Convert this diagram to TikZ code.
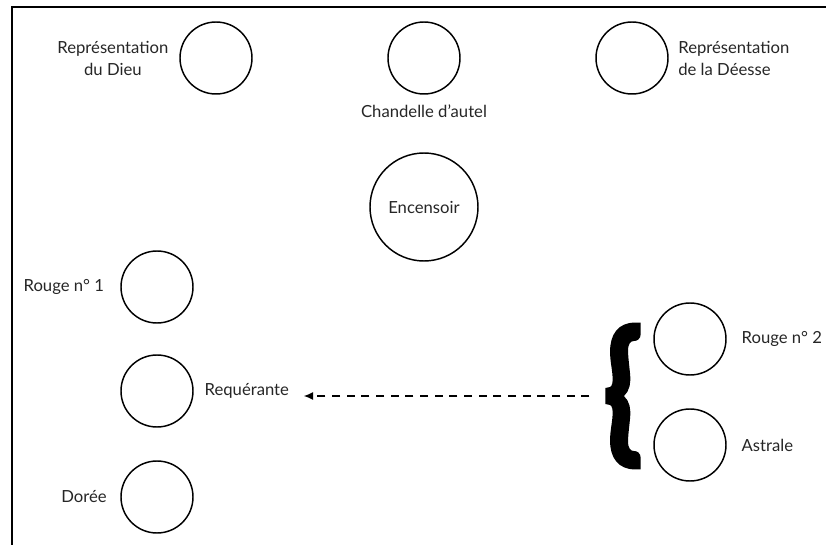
\documentclass[tikz,border=0pt]{standalone}
\usepackage{fontspec}
\setmainfont{Lato}
\newfontfamily\accfont{Lato}[FakeBold=4]
\usepackage{graphicx}
\usepackage{tikz}
\usetikzlibrary{arrows.meta,positioning}

\begin{document}
\begin{tikzpicture}[
  x=0.75pt, y=-0.75pt,
  objet/.style={circle, draw, line width=1.1pt, minimum size=#1, inner sep=0pt},
  objet/.default=54pt,
  lbl/.style={font=\fontsize{12.5}{16.5}\selectfont, text=black!85, align=center, inner sep=0pt},
]

\useasboundingbox (0,0) rectangle (826,545);
\draw[line width=1.5pt] (12,545) -- (12,7) -- (826,7);

% autel : rangée du haut
\node[objet] (dieu) at (216,58) {};
\node[objet] (chandelle) at (424,58) {};
\node[objet] (deesse) at (632,58) {};
\node[objet=81pt, lbl] (encensoir) at (424,207) {Encensoir};

\node[lbl, left=8pt of dieu] (dieu-txt) {Représentation\\du Dieu};
\node[lbl, below=7pt of chandelle] (chandelle-txt) {Chandelle d'autel};
\node[lbl, right=7pt of deesse, align=left] (deesse-txt) {Représentation\\de la Déesse};

% bougies du bas
\node[objet] (rouge1) at (157,287) {};
\node[objet] (requerante) at (157,391) {};
\node[objet] (doree) at (157,497) {};
\node[objet] (rouge2) at (690,339) {};
\node[objet] (astrale) at (690,445) {};

\node[lbl, left=12pt of rouge1] (rouge1-txt) {Rouge n° 1};
\node[lbl, right=8pt of requerante] (requerante-txt) {Requérante};
\node[lbl, left=10pt of doree] (doree-txt) {Dorée};
\node[lbl, right=11pt of rouge2] (rouge2-txt) {Rouge n° 2};
\node[lbl, right=11pt of astrale] (astrale-txt) {Astrale};

\node[inner sep=0pt] (accolade) at (623,396)
  {\resizebox{28pt}{88pt}{\accfont\bfseries\{}};

\draw[line width=0.8pt, dash pattern=on 6pt off 5pt, -{Latex[length=7pt,width=6pt]},
  shorten <=11pt, shorten >=11pt]
  (accolade.west) -- (accolade.west -| requerante-txt.east);

\end{tikzpicture}
\end{document}
